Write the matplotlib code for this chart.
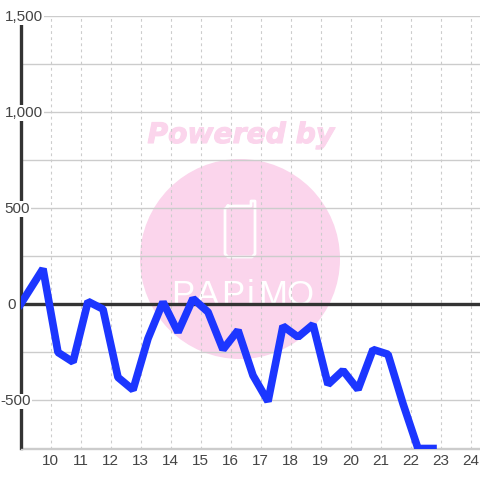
import matplotlib
matplotlib.use("Agg")
import matplotlib.pyplot as plt
import matplotlib.patheffects as pe
from matplotlib.lines import Line2D
from matplotlib.patches import Circle

# half hourly values
hours = [9.0, 9.75, 10.25, 10.75, 11.25, 11.75, 12.25, 12.75, 13.25, 13.75,
         14.25, 14.75, 15.25, 15.75, 16.25, 16.75, 17.25, 17.75, 18.25, 18.75,
         19.25, 19.75, 20.25, 20.75, 21.25, 21.75, 22.25, 22.75]
values = [0, 185, -250, -300, 15, -25, -380, -445, -178, 12,
          -145, 30, -40, -235, -135, -370, -505, -113, -170, -105,
          -417, -344, -443, -235, -260, -517, -750, -750]
x_ticks = list(range(10, 25))
y_labels = [1500, 1000, 500, 0, -500]
y_grid = [-750, -500, -250, 250, 500, 750, 1000, 1250, 1500]

W = 480
plt.rcParams["font.family"] = ["Liberation Sans", "DejaVu Sans"]
fig = plt.figure(figsize=(4.8, 4.8), dpi=100)
# plot area in pixels: x 20..480, y 16..448
ax = fig.add_axes([20.5 / W, 1 - 448.5 / W, 459.5 / W, 432.5 / W])
ax.set_facecolor("none")
ax.set_zorder(5)
ax.set_xlim(9, 9 + 459.5 / 30)
ax.set_ylim(-750, 1500)


def px(x, y):
    return x / W, 1 - y / W


# watermark goes under the grid
pink = "#fbd5ec"
fig.patches.append(Circle(px(240, 259), 100 / W, transform=fig.transFigure,
                          fc=pink, ec="none", zorder=0))
phone_x = [228, 251, 251, 255, 255, 252, 228, 225, 225, 228]
phone_y = [206, 206, 201, 201, 254, 257, 257, 254, 209, 206]
fig.add_artist(Line2D([x / W for x in phone_x], [1 - y / W for y in phone_y],
                      color="white", lw=2, zorder=1))
fig.text(*px(241, 135), "Powered by", color=pink, fontsize=20.3, fontweight="bold", fontstyle="italic",
         family="DejaVu Sans", ha="center", va="center", zorder=1,
         path_effects=[pe.withStroke(linewidth=0.8, foreground=pink)])
logo_letters = ["P", "A", "P", "i", "M", "O"]
logo_x = [183, 207, 233, 250, 273, 300]
for ch, lx in zip(logo_letters, logo_x):
    fig.text(*px(lx, 305), ch, color="white", fontsize=25,
             ha="center", va="baseline", zorder=1)

ax.set_xticks(x_ticks)
ax.set_yticks(y_grid)
ax.tick_params(length=0, labelsize=11, colors="#444444", pad=4, labelleft=False)
ax.grid(axis="y", color="#cccccc", lw=1, zorder=1)
ax.grid(axis="x", color="#cccccc", lw=0.8, ls=(0, (2.5, 3)), zorder=1)
ax.set_axisbelow(True)
for name in ["top", "right"]:
    ax.spines[name].set_visible(False)
ax.spines["bottom"].set_color("#cccccc")
ax.spines["bottom"].set_linewidth(1)
ax.spines["left"].set_color("#333333")
ax.spines["left"].set_linewidth(2.4)
ax.spines["left"].set_zorder(2)

ax.axhline(0, color="#333333", lw=2.4, zorder=2)
ax.plot(hours, values, color="#1c36ff", lw=5.5, solid_joinstyle="bevel", zorder=3)

# y labels sit inside the plot on a white box, over the axis line
label_right = {1500: 43, 1000: 43, 500: 30, 0: 16, -500: 31}
for v in y_labels:
    ax.annotate(f"{v:,}", (0, v), xycoords=("axes fraction", "data"),
                xytext=(label_right[v] - 20.5, -1), textcoords="offset pixels",
                ha="right", va="center", fontsize=11, color="#444444",
                bbox=dict(fc="white", ec="none", pad=0.5), zorder=2.5, annotation_clip=False)

fig.savefig("out.png", dpi=100)
